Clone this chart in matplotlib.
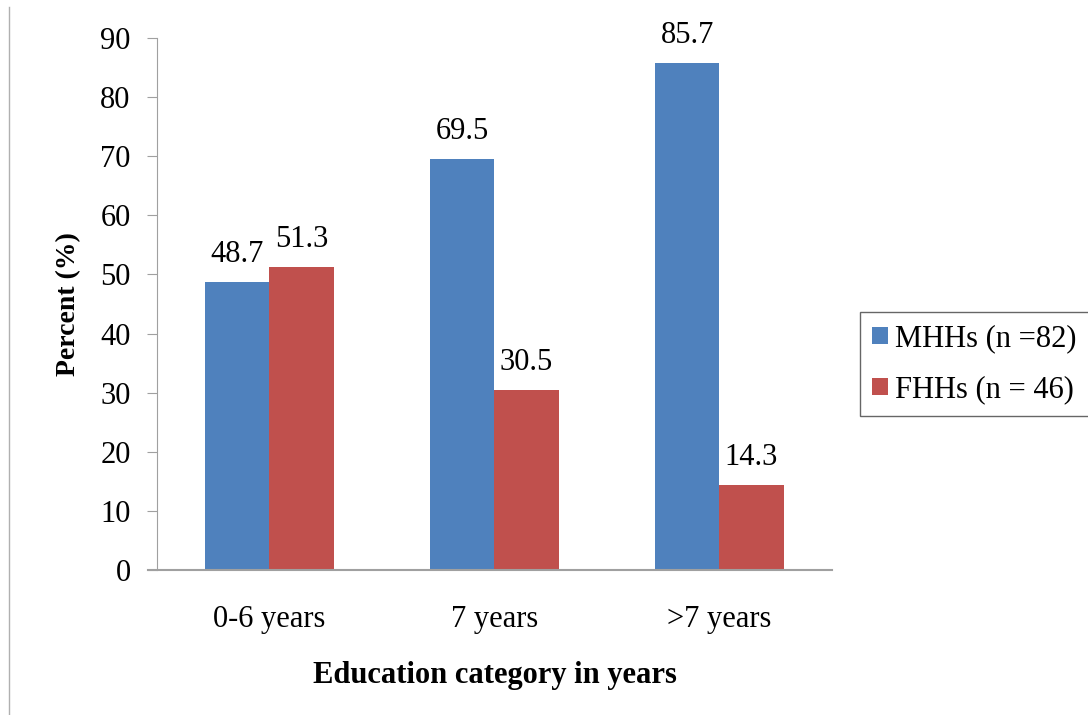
import matplotlib
matplotlib.use("Agg")
import matplotlib.pyplot as plt
from matplotlib.lines import Line2D
import numpy as np

categories = ["0-6 years", "7 years", ">7 years"]
mhh_values = [48.7, 69.5, 85.7]
fhh_values = [51.3, 30.5, 14.3]
series_names = ["MHHs (n =82)", "FHHs (n = 46)"]
y_ticks = [0, 10, 20, 30, 40, 50, 60, 70, 80, 90]

plt.rcParams["font.family"] = ["Liberation Serif", "DejaVu Serif"]

fig = plt.figure(figsize=(10.88, 7.15), dpi=100)
ax = fig.add_axes([0.1443, 0.2028, 0.6204, 0.7441])

blue = "#4F81BD"
red = "#C0504D"
x = np.arange(len(categories))
w = 0.285

b1 = ax.bar(x - w / 2, mhh_values, w, color=blue, label=series_names[0])
b2 = ax.bar(x + w / 2, fhh_values, w, color=red, label=series_names[1])

for bars, vals in ((b1, mhh_values), (b2, fhh_values)):
    for rect, v in zip(bars, vals):
        ax.text(rect.get_x() + rect.get_width() / 2, v + 3.4, f"{v:.1f}",
                ha="center", va="baseline", fontsize=22)

ax.set_xlim(-0.5, 2.5)
ax.set_ylim(0, 90)
ax.set_yticks(y_ticks)
ax.set_xticks(x)
ax.set_xticklabels(categories, fontsize=22)
ax.tick_params(axis="y", labelsize=22, length=7, color="#A0A0A0", pad=12)
ax.tick_params(axis="x", length=0, pad=25)

for s in ("top", "right"):
    ax.spines[s].set_visible(False)
ax.spines["left"].set_color("#A0A0A0")
ax.spines["bottom"].set_color("#A0A0A0")
ax.spines["bottom"].set_linewidth(1.5)
ax.spines["bottom"].set_bounds(-0.5 - 0.04, 2.5)

ax.set_ylabel("Percent (%)", fontsize=20, fontweight="bold", labelpad=14)
ax.set_xlabel("Education category in years", fontsize=22, fontweight="bold", labelpad=20)

leg = ax.legend(loc="center left", bbox_to_anchor=(1.0415, 0.387), fontsize=22,
                handlelength=0.5, handleheight=0.5, handletextpad=0.25,
                frameon=True, fancybox=False, borderpad=0.4, labelspacing=0.72,
                borderaxespad=0)
leg.get_frame().set_edgecolor("#404040")
leg.get_frame().set_linewidth(1.0)

fig.add_artist(Line2D([9 / 1088, 9 / 1088], [0, 1 - 7 / 715], transform=fig.transFigure,
                      color="#B0B0B0", linewidth=1.0))

fig.savefig("out.png", dpi=100)
